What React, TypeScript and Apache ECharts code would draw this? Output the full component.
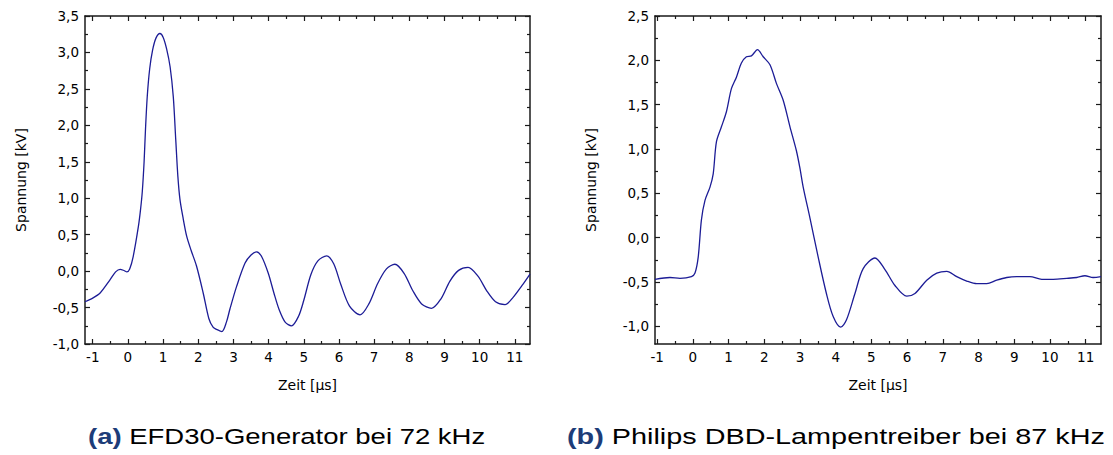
import React, { useEffect, useRef } from "react";
import * as echarts from "echarts";

// ---- data ----
const timeA = [-1.22, -1.0, -0.79, -0.51, -0.35, -0.22, -0.1, -0.03, 0.05, 0.15, 0.3, 0.36, 0.41, 0.46, 0.5, 0.55, 0.62, 0.7, 0.8, 0.91, 1.0, 1.1, 1.2, 1.29, 1.36, 1.42, 1.48, 1.56, 1.67, 1.8, 1.95, 2.14, 2.3, 2.42, 2.52, 2.67, 2.8, 2.9, 3.09, 3.33, 3.5, 3.66, 3.8, 3.99, 4.15, 4.3, 4.47, 4.65, 4.85, 5.0, 5.2, 5.4, 5.65, 5.85, 6.05, 6.3, 6.6, 6.85, 7.1, 7.35, 7.59, 7.85, 8.1, 8.35, 8.63, 8.9, 9.15, 9.4, 9.67, 9.95, 10.2, 10.45, 10.72, 10.95, 11.2, 11.43];
const voltA = [-0.42, -0.37, -0.3, -0.12, -0.01, 0.025, 0.005, -0.01, 0.03, 0.2, 0.62, 0.85, 1.1, 1.5, 1.95, 2.4, 2.78, 3.03, 3.2, 3.26, 3.21, 3.05, 2.8, 2.39, 1.8, 1.3, 0.98, 0.75, 0.48, 0.28, 0.07, -0.3, -0.65, -0.77, -0.8, -0.83, -0.7, -0.52, -0.21, 0.11, 0.22, 0.265, 0.2, -0.03, -0.3, -0.53, -0.7, -0.75, -0.62, -0.4, -0.05, 0.14, 0.21, 0.1, -0.18, -0.48, -0.6, -0.45, -0.17, 0.03, 0.094, -0.03, -0.27, -0.45, -0.51, -0.38, -0.14, 0.01, 0.05, -0.07, -0.27, -0.42, -0.46, -0.36, -0.2, -0.04];

const timeB = [-1.06, -0.64, -0.36, -0.04, 0.06, 0.15, 0.24, 0.34, 0.48, 0.57, 0.66, 0.8, 0.94, 1.08, 1.22, 1.36, 1.5, 1.64, 1.81, 1.97, 2.16, 2.34, 2.53, 2.72, 2.9, 3.0, 3.09, 3.28, 3.51, 3.74, 3.93, 4.14, 4.3, 4.54, 4.77, 5.1, 5.38, 5.66, 5.99, 6.22, 6.55, 6.83, 7.11, 7.39, 7.67, 7.95, 8.23, 8.51, 8.79, 9.07, 9.44, 9.77, 10.09, 10.47, 10.75, 10.98, 11.21, 11.43];
const voltB = [-0.47, -0.45, -0.46, -0.44, -0.4, -0.22, 0.2, 0.42, 0.57, 0.72, 1.08, 1.25, 1.42, 1.68, 1.81, 1.97, 2.04, 2.05, 2.12, 2.04, 1.95, 1.74, 1.55, 1.25, 0.98, 0.78, 0.57, 0.22, -0.22, -0.63, -0.89, -1.01, -0.93, -0.63, -0.35, -0.23, -0.36, -0.54, -0.66, -0.63, -0.48, -0.4, -0.38, -0.44, -0.49, -0.52, -0.52, -0.48, -0.45, -0.44, -0.44, -0.47, -0.47, -0.46, -0.45, -0.43, -0.45, -0.44];

const xMajorTicks = [-1, 0, 1, 2, 3, 4, 5, 6, 7, 8, 9, 10, 11];
const xMinorTicks = [-0.5, 0.5, 1.5, 2.5, 3.5, 4.5, 5.5, 6.5, 7.5, 8.5, 9.5, 10.5];
const yMajorTicksA = [-1, -0.5, 0, 0.5, 1, 1.5, 2, 2.5, 3, 3.5];
const yMinorTicksA = [-0.75, -0.25, 0.25, 0.75, 1.25, 1.75, 2.25, 2.75, 3.25];
const yMajorTicksB = [-1, -0.5, 0, 0.5, 1, 1.5, 2, 2.5];
const yMinorTicksB = [-0.75, -0.25, 0.25, 0.75, 1.25, 1.75, 2.25];

const xName = "Zeit [µs]";
const yName = "Spannung [kV]";
const captionA = ["(a)", "EFD30-Generator bei 72 kHz"];
const captionB = ["(b)", "Philips DBD-Lampentreiber bei 87 kHz"];

const LABEL_FONT = "DejaVu Sans";
const CAP_FONT = "Liberation Sans";
const AX = "#1a1a1a";
const LINE = "#1c1c96";

function xAxes(grid: number, min: number, max: number) {
  const base = {
    type: "value",
    gridIndex: grid,
    min,
    max,
    splitLine: { show: false },
    axisLine: { show: true, onZero: false, lineStyle: { color: AX, width: 1.5 } },
  };
  return [
    {
      ...base,
      position: "bottom",
      name: xName,
      nameLocation: "middle",
      nameGap: 34,
      nameMoveOverlap: false,
      nameTextStyle: { fontFamily: LABEL_FONT, fontSize: 14, color: "#000" },
      axisTick: { show: true, inside: true, length: 5, customValues: xMajorTicks, lineStyle: { color: AX, width: 1.2 } },
      axisLabel: {
        show: true,
        customValues: xMajorTicks,
        margin: 6,
        fontFamily: LABEL_FONT,
        fontSize: 13.5,
        color: "#000",
        formatter: (v: number) => String(Math.round(v)),
      },
    },
    {
      ...base,
      position: "bottom",
      axisLine: { show: false, onZero: false },
      axisTick: { show: true, inside: true, length: 3, customValues: xMinorTicks, lineStyle: { color: AX, width: 1.2 } },
      axisLabel: { show: false },
    },
    {
      ...base,
      position: "top",
      axisTick: { show: true, inside: true, length: 5, customValues: xMajorTicks, lineStyle: { color: AX, width: 1.2 } },
      axisLabel: { show: false },
    },
    {
      ...base,
      position: "top",
      axisLine: { show: false, onZero: false },
      axisTick: { show: true, inside: true, length: 3, customValues: xMinorTicks, lineStyle: { color: AX, width: 1.2 } },
      axisLabel: { show: false },
    },
  ];
}

function yAxes(grid: number, min: number, max: number, major: number[], minor: number[]) {
  const base = {
    type: "value",
    gridIndex: grid,
    min,
    max,
    splitLine: { show: false },
    axisLine: { show: true, onZero: false, lineStyle: { color: AX, width: 1.5 } },
  };
  return [
    {
      ...base,
      position: "left",
      name: yName,
      nameLocation: "middle",
      nameGap: 57,
      nameMoveOverlap: false,
      nameTextStyle: { fontFamily: LABEL_FONT, fontSize: 14, color: "#000" },
      axisTick: { show: true, inside: true, length: 5, customValues: major, lineStyle: { color: AX, width: 1.2 } },
      axisLabel: {
        show: true,
        customValues: major,
        margin: 6,
        fontFamily: LABEL_FONT,
        fontSize: 13.5,
        color: "#000",
        formatter: (v: number) => v.toFixed(1).replace(".", ","),
      },
    },
    {
      ...base,
      position: "left",
      axisLine: { show: false, onZero: false },
      axisTick: { show: true, inside: true, length: 3, customValues: minor, lineStyle: { color: AX, width: 1.2 } },
      axisLabel: { show: false },
    },
    {
      ...base,
      position: "right",
      axisTick: { show: true, inside: true, length: 5, customValues: major, lineStyle: { color: AX, width: 1.2 } },
      axisLabel: { show: false },
    },
    {
      ...base,
      position: "right",
      axisLine: { show: false, onZero: false },
      axisTick: { show: true, inside: true, length: 3, customValues: minor, lineStyle: { color: AX, width: 1.2 } },
      axisLabel: { show: false },
    },
  ];
}

function caption(x: number, scaleX: number, parts: string[]) {
  return {
    type: "text",
    x,
    y: 436,
    scaleX,
    style: {
      text: `{b|${parts[0]}} ${parts[1]}`,
      fontFamily: CAP_FONT,
      fontSize: 22,
      fill: "#000",
      verticalAlign: "middle",
      rich: {
        b: { fontFamily: CAP_FONT, fontSize: 22, fontWeight: "bold", fill: "#1d3c78" },
      },
    },
  };
}

export default function App() {
  const ref = useRef<HTMLDivElement>(null);
  useEffect(() => {
    if (!ref.current) return;
    const chart = echarts.init(ref.current, undefined, { renderer: "svg" });
    chart.setOption({
      animation: false,
      backgroundColor: "#fff",
      grid: [
        { left: 85, top: 16, width: 445, height: 328, outerBoundsMode: "none", containLabel: false },
        { left: 655, top: 16, width: 446, height: 328, outerBoundsMode: "none", containLabel: false },
      ],
      xAxis: [...xAxes(0, -1.22, 11.43), ...xAxes(1, -1.06, 11.43)],
      yAxis: [
        ...yAxes(0, -1, 3.5, yMajorTicksA, yMinorTicksA),
        ...yAxes(1, -1.2, 2.5, yMajorTicksB, yMinorTicksB),
      ],
      series: [
        {
          type: "line",
          xAxisIndex: 0,
          yAxisIndex: 0,
          data: timeA.map((t, i) => [t, voltA[i]]),
          showSymbol: false,
          smooth: 0.3,
          lineStyle: { color: LINE, width: 1.3 },
          clip: true,
        },
        {
          type: "line",
          xAxisIndex: 4,
          yAxisIndex: 4,
          data: timeB.map((t, i) => [t, voltB[i]]),
          showSymbol: false,
          smooth: 0.3,
          lineStyle: { color: LINE, width: 1.3 },
          clip: true,
        },
      ],
      graphic: [caption(88, 1.25, captionA), caption(567, 1.31, captionB)],
    });
    return () => chart.dispose();
  }, []);
  return (
    <div
      ref={ref}
      style={{ position: "absolute", left: 0, top: 0, width: 1113, height: 455, background: "#fff" }}
    />
  );
}
